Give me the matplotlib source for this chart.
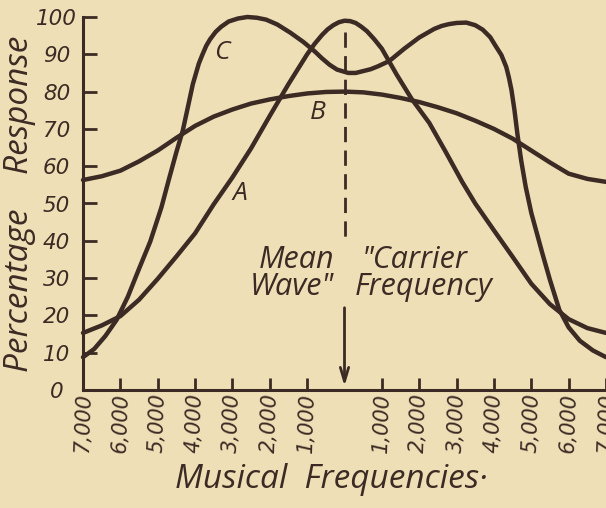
import matplotlib
matplotlib.use("Agg")
import matplotlib.pyplot as plt

# Position along the band: negative = below the carrier, positive = above (thousands of cycles)
a_pos = [-7.0, -6.5, -6.0, -5.5, -5.0, -4.5, -4.0, -3.5, -3.0, -2.5, -2.0, -1.5, -1.0, -0.8, -0.6,
         -0.45, -0.3, -0.15, 0.0, 0.15, 0.3, 0.45, 0.6, 0.8, 1.0, 1.4, 1.8, 2.27, 2.7, 3.15, 3.5,
         4.0, 4.5, 5.0, 5.5, 6.0, 6.5, 7.0]
a_resp = [15.3, 17.3, 19.8, 24.2, 29.8, 35.8, 42.0, 49.8, 57.0, 64.8, 73.5, 82.0, 90.0, 92.8, 95.2,
          96.7, 97.8, 98.6, 99.0, 98.9, 98.4, 97.4, 96.2, 94.0, 91.5, 84.5, 78.0, 71.6, 64.0, 55.8, 50.0,
          42.8, 35.7, 28.5, 23.0, 19.0, 16.6, 15.3]

b_pos = [-7.0, -6.5, -6.0, -5.5, -5.0, -4.5, -4.0, -3.5, -3.0, -2.5, -2.0, -1.5, -1.0, -0.5,
         0.0, 0.5, 1.0, 1.5, 2.0, 2.5, 3.0, 3.5, 4.0, 4.5, 5.0, 5.5, 6.0, 6.5, 7.0]
b_resp = [56.3, 57.3, 58.8, 61.3, 64.2, 67.6, 70.8, 73.3, 75.2, 76.8, 77.9, 78.8, 79.5, 79.9,
          80.0, 79.8, 79.2, 78.3, 77.2, 75.8, 74.2, 72.2, 70.0, 67.4, 64.2, 61.0, 58.0, 56.6, 55.8]

c_pos = [-7.0, -6.7, -6.4, -6.1, -5.8, -5.5, -5.2, -4.9, -4.7, -4.5, -4.33, -4.2, -4.06, -3.9, -3.8,
         -3.7, -3.6, -3.45, -3.3, -3.1, -2.85, -2.6, -2.35, -2.1, -1.8, -1.45, -1.1, -0.8, -0.6, -0.4,
         -0.2, 0.1, 0.3, 0.5, 0.7, 0.9, 1.2, 1.6, 2.0, 2.4, 2.6, 2.8, 3.0, 3.26, 3.5, 3.7, 3.9, 4.06,
         4.2, 4.33, 4.4, 4.47, 4.55, 4.63, 4.73, 4.85, 5.0, 5.3, 5.5, 5.75, 6.0, 6.3, 6.65, 7.0]
c_resp = [8.8, 11.0, 14.5, 18.8, 25.0, 32.5, 39.8, 49.0, 56.5, 63.8, 69.5, 75.5, 82.0, 87.5, 90.0,
          92.3, 94.0, 96.0, 97.4, 98.8, 99.6, 100.0, 99.8, 99.3, 98.0, 95.8, 93.3, 90.8, 88.9, 87.2,
          85.9, 85.0, 85.0, 85.5, 86.0, 86.8, 88.2, 91.5, 94.5, 96.8, 97.6, 98.1, 98.4, 98.5, 97.8, 96.6, 94.6, 92.0,
          89.8, 86.6, 83.8, 80.4, 75.0, 68.5, 61.5, 54.5, 47.5, 36.5, 29.5, 21.5, 16.8, 13.2, 10.6, 8.8]

tick_pos = [-7, -6, -5, -4, -3, -2, -1, 1, 2, 3, 4, 5, 6, 7]
tick_labels = ["7,000", "6,000", "5,000", "4,000", "3,000", "2,000", "1,000",
               "1,000", "2,000", "3,000", "4,000", "5,000", "6,000", "7,000"]
y_ticks = [0, 10, 20, 30, 40, 50, 60, 70, 80, 90, 100]

PAPER = "#efdfb6"
INK = "#3b2b24"
FONT = "Open Sans"
DIGITS = "DejaVu Sans"

fig = plt.figure(figsize=(6.06, 5.08), dpi=100, facecolor=PAPER)
ax = fig.add_axes([83 / 606, 118 / 508, 523 / 606, 373 / 508])
ax.set_facecolor(PAPER)
ax.set_xlim(-7.0, 7.0)
ax.set_ylim(0, 100)

for s in ("top", "right"):
    ax.spines[s].set_visible(False)
for s in ("left", "bottom"):
    ax.spines[s].set_color(INK)
    ax.spines[s].set_linewidth(2.2)

curve_kw = dict(color=INK, lw=3.2, solid_joinstyle="round", solid_capstyle="round", clip_on=False)
ax.plot(a_pos, a_resp, **curve_kw)
ax.plot(b_pos, b_resp, **curve_kw)
ax.plot(c_pos, c_resp, **curve_kw)

# carrier line: dashed above the caption, arrow below it
ax.plot([0, 0], [96, 39.5], color=INK, lw=2.0, linestyle=(0, (5.5, 3)))
ax.annotate("", xy=(0, 0.3), xytext=(0, 22.8),
            arrowprops=dict(arrowstyle="->,head_length=1.0,head_width=0.3", color=INK, lw=2.0))

txt = dict(family=FONT, style="italic", color=INK, fontsize=22)
ax.text(-0.27, 32.7, "Mean", ha="right", va="baseline", **txt)
ax.text(-0.27, 25.4, 'Wave"', ha="right", va="baseline", **txt)
ax.text(0.45, 32.7, '"Carrier', ha="left", va="baseline", **txt)
ax.text(0.27, 25.4, "Frequency", ha="left", va="baseline", **txt)

lab = dict(family=FONT, style="italic", color=INK, fontsize=19, ha="center", va="center")
ax.text(-3.29, 90.6, "C", **lab)
ax.text(-0.72, 74.5, "B", **lab)
ax.text(-2.81, 52.8, "A", **lab)

ax.set_xticks(tick_pos)
ax.set_xticklabels(tick_labels, rotation=88, family=DIGITS, style="oblique", fontsize=15, color=INK)
ax.set_yticks(y_ticks)
ax.set_yticklabels([str(v) for v in y_ticks], family=DIGITS, style="oblique", fontsize=15.5, color=INK)
for t in ax.get_yticklabels():
    t.set_horizontalalignment("center")
ax.tick_params(axis="y", direction="in", length=10, width=2.0, color=INK, pad=19)
ax.tick_params(axis="x", direction="in", length=9, width=2.0, color=INK, pad=2)

ax.set_ylabel("Percentage    Response", family=FONT, style="italic", fontsize=24, color=INK, labelpad=0)
ax.set_xlabel("Musical  Frequencies·", family=FONT, style="italic", fontsize=24, color=INK,
              labelpad=7, x=0.475)

fig.savefig("out.png", dpi=100, facecolor=PAPER)
